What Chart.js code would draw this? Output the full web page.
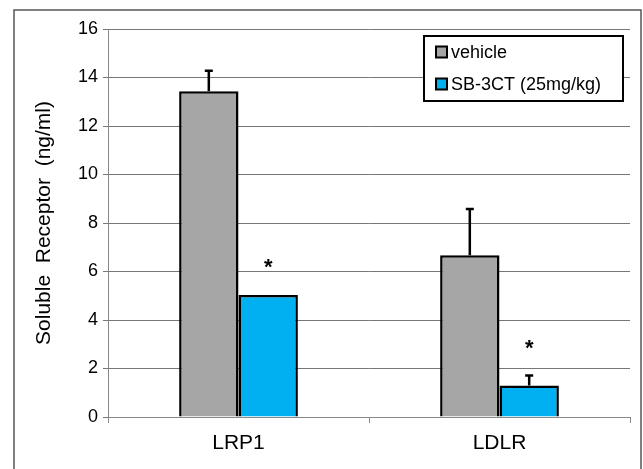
<!DOCTYPE html>
<html lang="en">
<head>
    <meta charset="UTF-8">
    <title>Soluble Receptor</title>
    <script src="https://cdn.jsdelivr.net/npm/chart.js"></script>
    <style>
        html, body { margin: 0; padding: 0; background: #fff; }
        #wrap { width: 643px; height: 469px; position: relative; }
    </style>
</head>
<body>
    <div id="wrap"><canvas id="receptorChart"></canvas></div>

    <script>
        // Data
        const categories = ['LRP1', 'LDLR'];
        const seriesNames = ['vehicle', 'SB-3CT (25mg/kg)'];
        const vehicle = [13.43, 6.67];
        const sb3ct = [5.03, 1.30];
        const vehicleErr = [0.85, 1.91];
        const sb3ctErr = [0, 0.41];
        const significant = [false, true]; // which series gets the asterisk
        const yTicks = [0, 2, 4, 6, 8, 10, 12, 14, 16];

        const FONT = "'Liberation Sans', Arial, sans-serif";
        const colors = ['#A6A6A6', '#00B0F0'];

        // error bars, asterisks, frame and legend box
        const extras = {
            id: 'extras',
            afterDatasetsDraw(chart) {
                const ctx = chart.ctx;
                const y = chart.scales.y;
                const errs = [vehicleErr, sb3ctErr];
                ctx.save();
                ctx.strokeStyle = '#000';
                ctx.lineWidth = 2.5;
                chart.data.datasets.forEach((ds, di) => {
                    const meta = chart.getDatasetMeta(di);
                    meta.data.forEach((bar, i) => {
                        const e = errs[di][i];
                        const top = y.getPixelForValue(ds.data[i] + e);
                        if (e > 0) {
                            ctx.beginPath();
                            ctx.moveTo(bar.x, bar.y);
                            ctx.lineTo(bar.x, top);
                            ctx.moveTo(bar.x - 4, top);
                            ctx.lineTo(bar.x + 4, top);
                            ctx.stroke();
                        }
                        if (significant[di]) {
                            ctx.fillStyle = '#000';
                            ctx.font = 'bold 22px ' + FONT;
                            ctx.textAlign = 'center';
                            ctx.textBaseline = 'middle';
                            ctx.fillText('*', bar.x, top - 27);
                        }
                    });
                });

                // outer frame
                ctx.strokeStyle = '#555';
                ctx.lineWidth = 1.5;
                ctx.strokeRect(14, 10, 627, 480);

                // legend box
                const lx = 424, ly = 36, lw = 199, lh = 65;
                ctx.fillStyle = '#fff';
                ctx.fillRect(lx, ly, lw, lh);
                ctx.strokeStyle = '#000';
                ctx.lineWidth = 2;
                ctx.strokeRect(lx, ly, lw, lh);
                ctx.font = '18px ' + FONT;
                ctx.textAlign = 'left';
                ctx.textBaseline = 'middle';
                chart.data.datasets.forEach((ds, di) => {
                    const cy = ly + 16 + di * 32;
                    ctx.fillStyle = ds.backgroundColor;
                    ctx.fillRect(lx + 12, cy - 5.5, 11, 11);
                    ctx.lineWidth = 2;
                    ctx.strokeStyle = '#000';
                    ctx.strokeRect(lx + 12, cy - 5.5, 11, 11);
                    ctx.fillStyle = '#000';
                    ctx.fillText(ds.label, lx + 27, cy + 1);
                });
                ctx.restore();
            }
        };

        const ctx = document.getElementById('receptorChart').getContext('2d');
        new Chart(ctx, {
            type: 'bar',
            data: {
                labels: categories,
                datasets: [
                    {
                        label: seriesNames[0],
                        data: vehicle,
                        backgroundColor: colors[0],
                        borderColor: '#000',
                        borderWidth: 2.5
                    },
                    {
                        label: seriesNames[1],
                        data: sb3ct,
                        backgroundColor: colors[1],
                        borderColor: '#000',
                        borderWidth: 2.5
                    }
                ]
            },
            options: {
                responsive: true,
                maintainAspectRatio: false,
                animation: false,
                layout: { padding: { left: 0, top: 29, right: 13, bottom: 0 } },
                datasets: {
                    bar: { categoryPercentage: 0.455, barPercentage: 1.0 }
                },
                plugins: {
                    legend: { display: false },
                    tooltip: { enabled: false }
                },
                scales: {
                    x: {
                        grid: {
                            offset: true,
                            drawOnChartArea: false,
                            color: '#888',
                            tickLength: 6
                        },
                        border: { color: '#888', width: 1 },
                        ticks: {
                            color: '#000',
                            font: { family: FONT, size: 21 },
                            padding: 8
                        },
                        afterFit(scale) { scale.height = 52; }
                    },
                    y: {
                        min: 0,
                        max: 16,
                        afterBuildTicks(scale) {
                            scale.ticks = yTicks.map(v => ({ value: v }));
                        },
                        grid: {
                            color: '#777',
                            lineWidth: 1,
                            tickLength: 5
                        },
                        border: { color: '#888', width: 1 },
                        ticks: {
                            color: '#000',
                            font: { family: FONT, size: 18 },
                            padding: 5
                        },
                        title: {
                            display: true,
                            text: 'Soluble  Receptor  (ng/ml)',
                            color: '#000',
                            font: { family: FONT, size: 21 },
                            padding: { top: 32, bottom: 0 }
                        },
                        afterFit(scale) { scale.width = 108; }
                    }
                }
            },
            plugins: [extras]
        });
    </script>
</body>
</html>
